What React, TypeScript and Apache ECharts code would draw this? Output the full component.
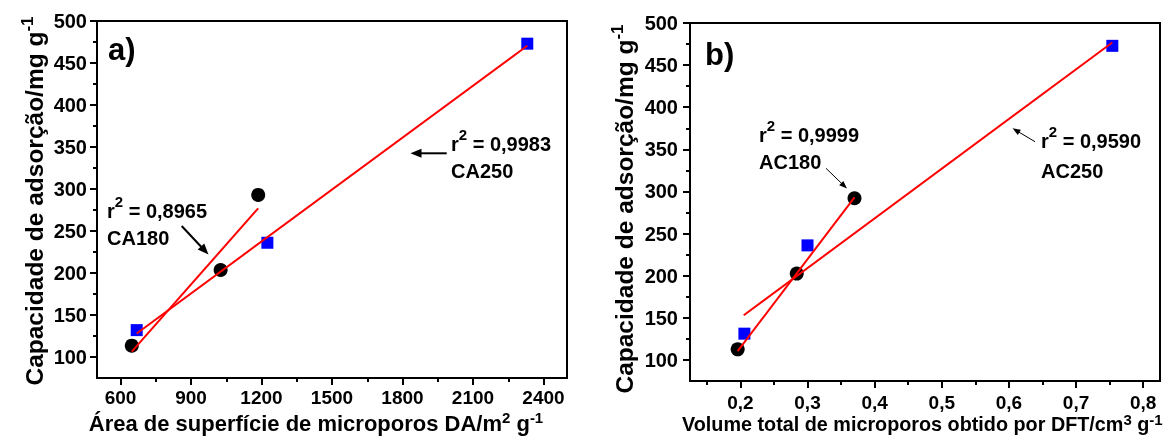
import React, { useEffect, useRef } from "react";
import * as echarts from "echarts";

// ---- data: panel a) (area DA, m2/g vs capacity, mg/g)
const a180X = [648, 1026, 1186];
const a180Y = [113.5, 203.6, 293];
const a250X = [669, 1225, 2331];
const a250Y = [132, 236, 473];
const fitA180X = [648, 1186];
const fitA180Y = [106.5, 277];
const fitA250X = [669, 2331];
const fitA250Y = [128, 470.6];

// ---- data: panel b) (DFT volume, cm3/g vs capacity, mg/g)
const b180X = [0.196, 0.284, 0.37];
const b180Y = [112.6, 202.5, 292];
const b250X = [0.206, 0.3, 0.754];
const b250Y = [131.2, 236, 472.9];
const fitB180X = [0.196, 0.37];
const fitB180Y = [110.5, 293];
const fitB250X = [0.205, 0.754];
const fitB250Y = [153, 476.8];

// ---- tick values
const yMajor = [100, 150, 200, 250, 300, 350, 400, 450, 500];
const yMinor = [125, 175, 225, 275, 325, 375, 425, 475];
const xAMajor = [600, 900, 1200, 1500, 1800, 2100, 2400];
const xAMinor = [750, 1050, 1350, 1650, 1950, 2250];
const xBMajor = [0.2, 0.3, 0.4, 0.5, 0.6, 0.7, 0.8];
const xBMinor = [0.15, 0.25, 0.35, 0.45, 0.55, 0.65, 0.75];

const FONT = "'Liberation Sans', Arial, sans-serif";

const zip = (xs: number[], ys: number[]) => xs.map((x, i) => [x, ys[i]]);

function arrow(x1: number, y1: number, x2: number, y2: number, w: number, head: number, hw: number) {
  const ang = Math.atan2(y2 - y1, x2 - x1);
  const c = Math.cos(ang), s = Math.sin(ang);
  const bx = x2 - head * c, by = y2 - head * s;
  return [
    { type: "line", shape: { x1, y1, x2: bx + c, y2: by + s }, style: { stroke: "#000", lineWidth: w }, z: 10 },
    {
      type: "polygon",
      shape: { points: [[x2, y2], [bx - hw * s, by + hw * c], [bx + hw * s, by - hw * c]] },
      style: { fill: "#000" },
      z: 10,
    },
  ];
}

const richBase = (size: number, sup: number, extra: number) => ({
  n: { fontFamily: FONT, fontWeight: "bold", fontSize: size, lineHeight: size + extra, verticalAlign: "bottom", fill: "#000" },
  s: { fontFamily: FONT, fontWeight: "bold", fontSize: sup, lineHeight: sup, verticalAlign: "top", fill: "#000" },
});

function label(x: number, y: number, text: string, size = 20, sup = 15, rotation = 0, align = "left", extra = 7) {
  return {
    type: "text",
    x,
    y,
    rotation,
    z: 10,
    style: {
      text,
      rich: richBase(size, sup, extra),
      align,
      verticalAlign: "middle",
      fill: "#000",
    },
  };
}

function xAxes(grid: number, min: number, max: number, major: number[], minor: number[], fmt: (v: number) => string, margin: number) {
  return [
    {
      gridIndex: grid,
      type: "value",
      min,
      max,
      position: "bottom",
      axisLine: { show: true, onZero: false, lineStyle: { color: "#000", width: 2 } },
      axisTick: { show: true, customValues: major, length: 7, lineStyle: { color: "#000", width: 2 } },
      axisLabel: { show: true, customValues: major, formatter: fmt, margin, color: "#000", fontFamily: FONT, fontWeight: "bold", fontSize: 19 },
      splitLine: { show: false },
    },
    {
      gridIndex: grid,
      type: "value",
      min,
      max,
      position: "bottom",
      axisLine: { show: false, onZero: false },
      axisTick: { show: true, customValues: minor, length: 4, lineStyle: { color: "#000", width: 2 } },
      axisLabel: { show: false },
      splitLine: { show: false },
    },
  ];
}

function yAxes(grid: number, margin: number) {
  return [
    {
      gridIndex: grid,
      type: "value",
      min: 75,
      max: 500,
      position: "left",
      axisLine: { show: true, onZero: false, lineStyle: { color: "#000", width: 2 } },
      axisTick: { show: true, customValues: yMajor, length: 7, lineStyle: { color: "#000", width: 2 } },
      axisLabel: { show: true, customValues: yMajor, margin, color: "#000", fontFamily: FONT, fontWeight: "bold", fontSize: 20 },
      splitLine: { show: false },
    },
    {
      gridIndex: grid,
      type: "value",
      min: 75,
      max: 500,
      position: "left",
      axisLine: { show: false, onZero: false },
      axisTick: { show: true, customValues: yMinor, length: 4, lineStyle: { color: "#000", width: 2 } },
      axisLabel: { show: false },
      splitLine: { show: false },
    },
  ];
}

export default function App() {
  const ref = useRef<HTMLDivElement>(null);
  useEffect(() => {
    if (!ref.current) return;
    const chart = echarts.init(ref.current, undefined, { renderer: "svg" });
    const commaFmt = (v: number) => v.toFixed(1).replace(".", ",");
    const circle = (xi: number, yi: number, xs: number[], ys: number[]) => ({
      type: "scatter",
      xAxisIndex: xi,
      yAxisIndex: yi,
      data: zip(xs, ys),
      symbol: "circle",
      symbolSize: 14,
      itemStyle: { color: "#000", opacity: 1 },
      z: 2,
    });
    const square = (xi: number, yi: number, xs: number[], ys: number[]) => ({
      type: "scatter",
      xAxisIndex: xi,
      yAxisIndex: yi,
      data: zip(xs, ys),
      symbol: "rect",
      symbolSize: 12,
      itemStyle: { color: "#0000FF", opacity: 1 },
      z: 2,
    });
    const fit = (xi: number, yi: number, xs: number[], ys: number[]) => ({
      type: "line",
      xAxisIndex: xi,
      yAxisIndex: yi,
      data: zip(xs, ys),
      showSymbol: false,
      symbol: "none",
      lineStyle: { color: "#FF0000", width: 2 },
      z: 3,
    });
    chart.setOption({
      animation: false,
      grid: [
        { left: 97, top: 21, width: 470, height: 357, show: true, borderColor: "#000", borderWidth: 2, containLabel: false, outerBoundsMode: "none" },
        { left: 690, top: 23, width: 470, height: 358, show: true, borderColor: "#000", borderWidth: 2, containLabel: false, outerBoundsMode: "none" },
      ],
      xAxis: [
        ...xAxes(0, 500, 2500, xAMajor, xAMinor, (v: number) => String(v), 10),
        ...xAxes(1, 0.125, 0.825, xBMajor, xBMinor, commaFmt, 12),
      ],
      yAxis: [...yAxes(0, 10), ...yAxes(1, 12)],
      series: [
        circle(0, 0, a180X, a180Y),
        square(0, 0, a250X, a250Y),
        fit(0, 0, fitA180X, fitA180Y),
        fit(0, 0, fitA250X, fitA250Y),
        circle(2, 2, b180X, b180Y),
        square(2, 2, b250X, b250Y),
        fit(2, 2, fitB180X, fitB180Y),
        fit(2, 2, fitB250X, fitB250Y),
      ],
      graphic: [
        // panel labels
        { type: "text", x: 108, y: 49, z: 10, style: { text: "a)", fontFamily: FONT, fontWeight: "bold", fontSize: 31, fill: "#000", verticalAlign: "middle" } },
        { type: "text", x: 705, y: 54, z: 10, style: { text: "b)", fontFamily: FONT, fontWeight: "bold", fontSize: 31, fill: "#000", verticalAlign: "middle" } },
        // annotations panel a
        label(107, 207, "{n|r}{s|2}{n| = 0,8965}"),
        label(107, 237, "{n|CA180}", 20, 15, 0, "left", 2),
        ...arrow(181.7, 226, 208.5, 254.5, 2, 11, 4.5),
        label(451, 140, "{n|r}{s|2}{n| = 0,9983}"),
        label(451, 169.5, "{n|CA250}", 20, 15, 0, "left", 2),
        ...arrow(446.7, 153.3, 410.5, 153.3, 2, 11, 4.5),
        // annotations panel b
        label(759, 131, "{n|r}{s|2}{n| = 0,9999}"),
        label(759, 161, "{n|AC180}", 20, 15, 0, "left", 2),
        ...arrow(826, 168.3, 847, 188.6, 1, 8, 3),
        label(1041, 137.5, "{n|r}{s|2}{n| = 0,9590}"),
        label(1041, 169.5, "{n|AC250}", 20, 15, 0, "left", 2),
        ...arrow(1035, 141.7, 1012.5, 128.3, 1, 8, 3),
        // axis titles
        label(33, 201, "{n|Capacidade de adsorção/mg g}{s|-1}", 24.5, 17, Math.PI / 2, "center", 4),
        label(623, 209, "{n|Capacidade de adsorção/mg g}{s|-1}", 24.5, 17, Math.PI / 2, "center", 4),
        label(316, 422, "{n|Área de superfície de microporos DA/m}{s|2}{n| g}{s|-1}", 22, 15, 0, "center", 3),
        label(682, 423, "{n|Volume total de microporos obtido por DFT/cm}{s|3}{n| g}{s|-1}", 19.8, 15, 0, "left", 3),
      ],
    });
    return () => chart.dispose();
  }, []);
  return <div ref={ref} style={{ position: "fixed", left: 0, top: 0, width: 1176, height: 441 }} />;
}
